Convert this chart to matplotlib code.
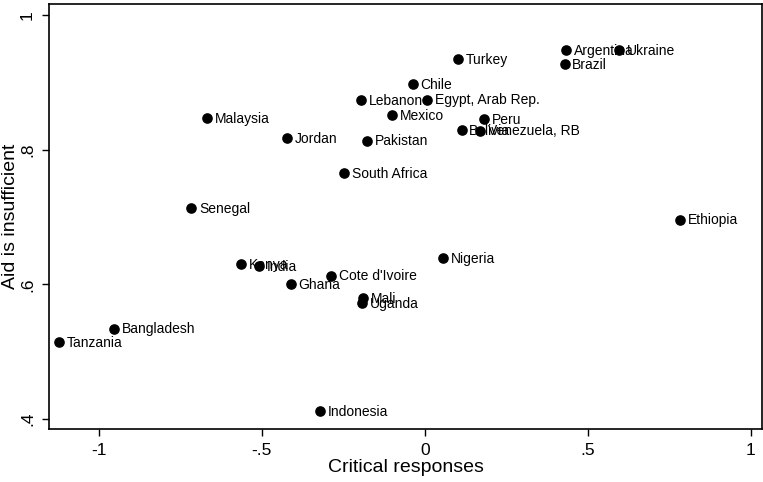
import matplotlib
matplotlib.use("Agg")
import matplotlib.pyplot as plt

plt.rcParams['font.family'] = ['Liberation Sans', 'DejaVu Sans']

countries = ["Tanzania", "Bangladesh", "Senegal", "Malaysia", "Kenya", "India",
             "Ghana", "Jordan", "Indonesia", "South Africa", "Cote d'Ivoire",
             "Lebanon", "Pakistan", "Mali", "Uganda", "Mexico", "Chile",
             "Egypt, Arab Rep.", "Turkey", "Nigeria", "Bolivia", "Peru",
             "Venezuela, RB", "Argentina", "Brazil", "Ukraine", "Ethiopia"]
critical = [-1.122, -0.953, -0.716, -0.667, -0.563, -0.507,
            -0.410, -0.422, -0.321, -0.247, -0.287,
            -0.195, -0.177, -0.189, -0.192, -0.100, -0.037,
            0.008, 0.103, 0.057, 0.113, 0.183,
            0.170, 0.433, 0.429, 0.596, 0.783]
insufficient = [0.514, 0.534, 0.713, 0.847, 0.630, 0.627,
                0.600, 0.817, 0.412, 0.765, 0.613,
                0.873, 0.813, 0.579, 0.572, 0.851, 0.897,
                0.874, 0.934, 0.639, 0.829, 0.845,
                0.828, 0.947, 0.927, 0.947, 0.696]

fig = plt.figure(figsize=(7.63, 4.82), dpi=100)
ax = fig.add_axes([0.0642, 0.110, 0.9345, 0.8817])

ax.scatter(critical, insufficient, s=44, color="black", zorder=3)
for name, x, y in zip(countries, critical, insufficient):
    ax.annotate(name, (x, y), xytext=(5.5, -0.5), textcoords="offset points",
                ha="left", va="center", fontsize=10, color="black")

ax.set_xlim(-1.1525, 1.0347)
ax.set_ylim(0.3853, 1.0159)
ax.set_xticks([-1, -0.5, 0, 0.5, 1])
ax.set_xticklabels(["-1", "-.5", "0", ".5", "1"])
ax.set_yticks([0.4, 0.6, 0.8, 1.0])
ax.set_yticklabels([".4", ".6", ".8", "1"], rotation=90, va="center")
ax.tick_params(direction="out", length=5, width=1, labelsize=12.5, pad=5)
for sp in ax.spines.values():
    sp.set_linewidth(1.2)

ax.set_xlabel("Critical responses", fontsize=14, labelpad=1)
ax.set_ylabel("Aid is insufficient", fontsize=14, labelpad=1)

fig.savefig("out.png", dpi=100)
